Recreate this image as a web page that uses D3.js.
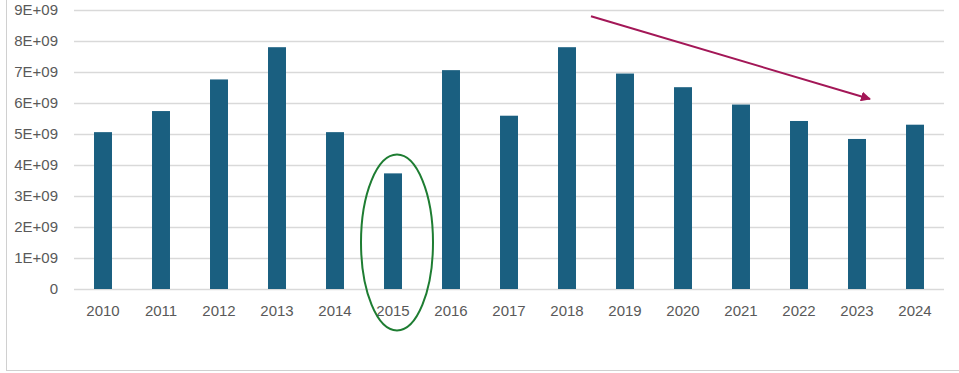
<!DOCTYPE html>
<html>
<head>
<meta charset="utf-8">
<script src="https://cdn.jsdelivr.net/npm/d3@7"></script>
<style>
  html, body { margin: 0; padding: 0; background: #fff; }
  svg { display: block; }
  text { font-family: "Liberation Sans", Arial, sans-serif; }
</style>
</head>
<body>
<svg id="chart" width="959" height="373"></svg>
<script>
const years = ["2010","2011","2012","2013","2014","2015","2016","2017","2018","2019","2020","2021","2022","2023","2024"];
const values = [5.06e9, 5.74e9, 6.76e9, 7.80e9, 5.06e9, 3.73e9, 7.06e9, 5.59e9, 7.80e9, 6.95e9, 6.51e9, 5.95e9, 5.42e9, 4.84e9, 5.30e9];
const yTicks = [0, 1e9, 2e9, 3e9, 4e9, 5e9, 6e9, 7e9, 8e9, 9e9];
const yTickLabels = ["0","1E+09","2E+09","3E+09","4E+09","5E+09","6E+09","7E+09","8E+09","9E+09"];
const highlightYear = "2015";
const trendFrom = "2018";
const trendTo = "2023";

const svg = d3.select("#chart");
const W = 959, H = 373;
const m = { left: 74, right: 15, top: 10, bottom: 84 };

// outer frame
svg.append("rect").attr("x", 6.5).attr("y", -5).attr("width", W + 10).attr("height", 375.5)
  .attr("fill", "none").attr("stroke", "#d0d0d0").attr("stroke-width", 1);

const x = d3.scaleBand().domain(years).range([m.left, W - m.right]).paddingInner(0.69).paddingOuter(0.345);
const y = d3.scaleLinear().domain([0, 9e9]).range([H - m.bottom, m.top]);

// gridlines
const grid = svg.append("g").attr("transform", `translate(${m.left},0)`)
  .call(d3.axisLeft(y).tickValues(yTicks).tickSize(-(W - m.right - m.left)).tickFormat(""));
grid.select(".domain").remove();
grid.selectAll(".tick line").attr("stroke", "#d9d9d9").attr("stroke-width", 1.5);

// y labels
const yAxis = svg.append("g").attr("transform", `translate(58,0)`)
  .call(d3.axisLeft(y).tickValues(yTicks).tickSize(0).tickPadding(0).tickFormat((d, i) => yTickLabels[i]));
yAxis.select(".domain").remove();
yAxis.selectAll("text").attr("fill", "#595959").style("font-size", "15px")
  .style("font-family", "'Liberation Sans', Arial, sans-serif");

// bars
svg.append("g").selectAll("rect").data(years).join("rect")
  .attr("x", d => x(d))
  .attr("width", x.bandwidth())
  .attr("y", (d, i) => y(values[i]))
  .attr("height", (d, i) => y(0) - y(values[i]))
  .attr("fill", "#1a5f80");

// x labels
const xAxis = svg.append("g").attr("transform", `translate(0,${y(0)})`)
  .call(d3.axisBottom(x).tickSize(0).tickPadding(16));
xAxis.select(".domain").remove();
xAxis.selectAll("text").attr("fill", "#595959").style("font-size", "15px")
  .style("font-family", "'Liberation Sans', Arial, sans-serif");

// highlight ellipse around 2015
const cx = x(highlightYear) + x.bandwidth() / 2 + 4;
svg.append("ellipse")
  .attr("cx", cx).attr("cy", y(1.5e9))
  .attr("rx", 36).attr("ry", 88)
  .attr("fill", "none").attr("stroke", "#1e7d32").attr("stroke-width", 2);

// trend arrow
const defs = svg.append("defs");
defs.append("marker").attr("id", "ah").attr("viewBox", "0 0 10 10")
  .attr("refX", 9).attr("refY", 5).attr("markerWidth", 5).attr("markerHeight", 5)
  .attr("orient", "auto")
  .append("path").attr("d", "M0,0 L10,5 L0,10 z").attr("fill", "#a31757");

const x1 = x(trendFrom) + x.bandwidth() / 2 + 24;
const x2 = x(trendTo) + x.bandwidth() / 2 + 13;
svg.append("line")
  .attr("x1", x1).attr("y1", y(8.8e9))
  .attr("x2", x2).attr("y2", y(6.13e9))
  .attr("stroke", "#a31757").attr("stroke-width", 2)
  .attr("marker-end", "url(#ah)");
</script>
</body>
</html>
